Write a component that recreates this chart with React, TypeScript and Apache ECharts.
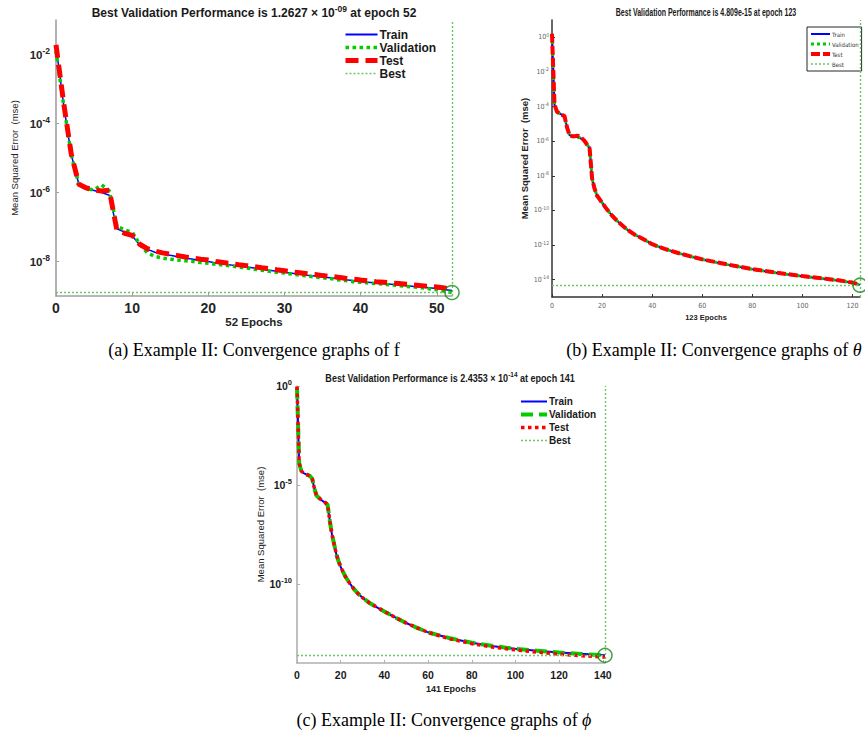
import React, { useEffect, useRef } from 'react';
import * as echarts from 'echarts';

const W = 865;
const H = 736;

const SANS = '"Liberation Sans", Arial, sans-serif';
const NARROW = '"Liberation Sans Narrow", "Arial Narrow", "DejaVu Sans Condensed", sans-serif';
const SERIF = '"Liberation Serif", "Times New Roman", serif';

const BLUE = '#0000ff';
const GREEN = '#00cc00';
const RED = '#ff0000';
const BESTC = '#66c866';
const CIRCLE = '#138a13';

// ---------- (a) f : 52 epochs ----------
const epochsA = [0, 1, 2, 3, 4, 5, 6, 7, 8, 9, 10, 11, 12, 13, 14, 15, 16, 17, 18, 19, 20, 21, 22, 23, 24, 25, 26, 27, 28, 29, 30, 31, 32, 33, 34, 35, 36, 37, 38, 39, 40, 41, 42, 43, 44, 45, 46, 47, 48, 49, 50, 51, 52];
const trainA = [1.78e-2, 3.55e-4, 1.26e-5, 1.74e-6, 1.32e-6, 1.15e-6, 1.0e-6, 8.3e-7, 8.9e-8, 7.1e-8, 5.6e-8, 3.0e-8, 2.24e-8, 1.86e-8, 1.66e-8, 1.51e-8, 1.38e-8, 1.26e-8, 1.17e-8, 1.07e-8, 1.0e-8, 9.1e-9, 8.5e-9, 7.9e-9, 7.4e-9, 6.9e-9, 6.5e-9, 6.0e-9, 5.6e-9, 5.2e-9, 4.9e-9, 4.6e-9, 4.3e-9, 4.0e-9, 3.8e-9, 3.55e-9, 3.4e-9, 3.2e-9, 2.95e-9, 2.8e-9, 2.6e-9, 2.5e-9, 2.4e-9, 2.3e-9, 2.2e-9, 2.1e-9, 2.0e-9, 1.9e-9, 1.82e-9, 1.74e-9, 1.66e-9, 1.55e-9, 1.45e-9];
const valA = [1.26e-2, 3.5e-4, 1.26e-5, 1.74e-6, 1.26e-6, 1.2e-6, 1.66e-6, 1.12e-6, 1.05e-7, 8.3e-8, 7.1e-8, 3.16e-8, 1.78e-8, 1.41e-8, 1.26e-8, 1.17e-8, 1.1e-8, 1.05e-8, 1.0e-8, 9.3e-9, 8.9e-9, 8.3e-9, 7.9e-9, 7.4e-9, 6.9e-9, 6.5e-9, 6.0e-9, 5.6e-9, 5.2e-9, 4.9e-9, 4.6e-9, 4.3e-9, 4.0e-9, 3.8e-9, 3.55e-9, 3.4e-9, 3.2e-9, 2.95e-9, 2.8e-9, 2.6e-9, 2.5e-9, 2.4e-9, 2.3e-9, 2.2e-9, 2.1e-9, 2.0e-9, 1.9e-9, 1.82e-9, 1.74e-9, 1.62e-9, 1.51e-9, 1.38e-9, 1.26e-9];
const testA = [1.9e-2, 4.0e-4, 1.32e-5, 1.74e-6, 1.35e-6, 1.2e-6, 1.1e-6, 1.17e-6, 7.9e-8, 6.6e-8, 5.75e-8, 3.16e-8, 2.34e-8, 2.0e-8, 1.78e-8, 1.62e-8, 1.48e-8, 1.35e-8, 1.26e-8, 1.17e-8, 1.1e-8, 1.0e-8, 9.3e-9, 8.7e-9, 8.1e-9, 7.6e-9, 7.1e-9, 6.6e-9, 6.2e-9, 5.75e-9, 5.4e-9, 5.0e-9, 4.7e-9, 4.4e-9, 4.2e-9, 3.9e-9, 3.7e-9, 3.5e-9, 3.25e-9, 3.1e-9, 2.9e-9, 2.75e-9, 2.6e-9, 2.5e-9, 2.4e-9, 2.3e-9, 2.2e-9, 2.1e-9, 2.0e-9, 1.9e-9, 1.82e-9, 1.7e-9, 1.58e-9];
const bestA = 1.2627e-9;
const bestEpochA = 52;
const xTicksA = [0, 10, 20, 30, 40, 50];
const yTicksA = [-8, -6, -4, -2];

// ---------- (b) theta : 123 epochs ----------
const epochsB = [0, 1, 2, 3, 4, 5, 6, 7, 8, 9, 10, 11, 12, 13, 14, 15, 16, 17, 18, 19, 20, 22, 24, 26, 28, 30, 33, 36, 40, 45, 50, 55, 60, 70, 80, 90, 100, 110, 115, 120, 123];
const trainB = [1.41, 1.26e-4, 5.0e-5, 3.98e-5, 3.3e-5, 2.8e-5, 6.3e-6, 2.24e-6, 1.9e-6, 1.78e-6, 1.74e-6, 1.58e-6, 1.35e-6, 1.0e-6, 6.3e-7, 4.0e-7, 7.1e-9, 1.78e-9, 7.1e-10, 4.5e-10, 2.8e-10, 1.12e-10, 5.0e-11, 2.5e-11, 1.41e-11, 7.9e-12, 4.0e-12, 2.4e-12, 1.12e-12, 6.0e-13, 3.55e-13, 2.24e-13, 1.48e-13, 7.4e-14, 4.0e-14, 2.4e-14, 1.58e-14, 1.07e-14, 8.7e-15, 6.6e-15, 5.0e-15];
const valB = [1.35, 1.26e-4, 5.0e-5, 3.98e-5, 3.3e-5, 2.8e-5, 6.3e-6, 2.24e-6, 1.9e-6, 1.78e-6, 1.74e-6, 1.58e-6, 1.35e-6, 1.0e-6, 6.3e-7, 4.0e-7, 7.1e-9, 1.78e-9, 7.1e-10, 4.5e-10, 2.8e-10, 1.12e-10, 5.0e-11, 2.5e-11, 1.41e-11, 7.9e-12, 4.0e-12, 2.4e-12, 1.12e-12, 6.0e-13, 3.55e-13, 2.24e-13, 1.48e-13, 7.4e-14, 4.0e-14, 2.4e-14, 1.58e-14, 1.07e-14, 8.7e-15, 6.5e-15, 4.809e-15];
const testB = [1.6, 1.3e-4, 5.0e-5, 3.98e-5, 3.3e-5, 2.8e-5, 6.3e-6, 2.24e-6, 1.95e-6, 1.9e-6, 2.1e-6, 1.9e-6, 1.45e-6, 1.05e-6, 6.3e-7, 4.0e-7, 7.1e-9, 1.78e-9, 7.1e-10, 4.5e-10, 2.8e-10, 1.12e-10, 5.0e-11, 2.5e-11, 1.41e-11, 7.9e-12, 4.0e-12, 2.4e-12, 1.12e-12, 6.0e-13, 3.6e-13, 2.3e-13, 1.5e-13, 7.6e-14, 4.1e-14, 2.5e-14, 1.62e-14, 1.1e-14, 9.0e-15, 6.8e-15, 5.2e-15];
const bestB = 4.809e-15;
const bestEpochB = 123;
const xTicksB = [0, 20, 40, 60, 80, 100, 120];
const yTicksB = [-14, -12, -10, -8, -6, -4, -2, 0];

// ---------- (c) phi : 141 epochs ----------
const epochsC = [0, 1, 2, 3, 4, 5, 6, 7, 8, 9, 10, 11, 12, 13, 14, 15, 16, 17, 18, 19, 20, 22, 24, 26, 28, 30, 33, 36, 40, 45, 50, 55, 60, 70, 80, 90, 100, 110, 120, 130, 141];
const trainC = [0.89, 1.26e-4, 5.0e-5, 3.98e-5, 3.55e-5, 3.16e-5, 2.8e-5, 2.0e-5, 6.3e-6, 2.8e-6, 2.24e-6, 1.78e-6, 1.48e-6, 1.26e-6, 1.0e-6, 1.58e-7, 3.16e-8, 1.0e-8, 3.16e-9, 1.41e-9, 7.1e-10, 2.5e-10, 1.12e-10, 5.6e-11, 3.16e-11, 2.0e-11, 1.12e-11, 7.1e-12, 4.0e-12, 2.0e-12, 1.05e-12, 6.0e-13, 3.55e-13, 1.78e-13, 1.05e-13, 7.1e-14, 5.2e-14, 4.2e-14, 3.4e-14, 2.9e-14, 2.5e-14];
const valC = [0.85, 1.26e-4, 5.0e-5, 3.98e-5, 3.55e-5, 3.16e-5, 2.8e-5, 2.0e-5, 6.3e-6, 2.8e-6, 2.24e-6, 1.78e-6, 1.48e-6, 1.26e-6, 1.0e-6, 1.58e-7, 3.16e-8, 1.0e-8, 3.16e-9, 1.41e-9, 7.1e-10, 2.5e-10, 1.12e-10, 5.6e-11, 3.16e-11, 2.0e-11, 1.12e-11, 7.1e-12, 4.0e-12, 2.0e-12, 1.05e-12, 6.0e-13, 3.55e-13, 1.78e-13, 1.05e-13, 7.1e-14, 5.2e-14, 4.2e-14, 3.4e-14, 2.85e-14, 2.4353e-14];
const testC = [0.95, 1.26e-4, 5.0e-5, 3.98e-5, 3.55e-5, 3.16e-5, 2.8e-5, 2.0e-5, 6.3e-6, 2.8e-6, 2.24e-6, 1.78e-6, 1.48e-6, 1.26e-6, 1.0e-6, 1.58e-7, 3.16e-8, 1.0e-8, 3.16e-9, 1.41e-9, 7.1e-10, 2.5e-10, 1.12e-10, 5.6e-11, 3.16e-11, 2.0e-11, 1.12e-11, 7.1e-12, 4.0e-12, 2.0e-12, 1.05e-12, 6.0e-13, 3.55e-13, 1.66e-13, 9.5e-14, 6.3e-14, 4.6e-14, 3.55e-14, 2.8e-14, 2.34e-14, 2.0e-14];
const bestC = 2.4353e-14;
const bestEpochC = 141;
const xTicksC = [0, 20, 40, 60, 80, 100, 120, 140];
const yTicksC = [-10, -5, 0];

function toLog(ep: number[], v: number[]) {
  return ep.map((e, i) => [e, Math.log10(v[i])]);
}

type PanelCfg = any;

function buildPanel(c: PanelCfg) {
  const nm = (n: string) => n + c.suffix;
  const grid = { ...c.grid, containLabel: false };
  const xAxis = {
    gridIndex: c.idx,
    type: 'value',
    min: 0,
    max: c.xMax,
    splitLine: { show: false },
    axisLine: { show: true, onZero: false, lineStyle: { color: c.axisColor, width: c.axisWidth } },
    axisTick: { show: true, inside: true, length: 3, customValues: c.xTicks, lineStyle: { color: c.axisColor } },
    axisLabel: { customValues: c.xTicks, margin: c.xLabelMargin, color: c.labelColor, ...c.xLabelFont },
    name: c.xName,
    nameLocation: 'middle',
    nameGap: c.xNameGap,
    nameTextStyle: { color: c.labelColor, ...c.xNameFont },
  };
  const yAxis = {
    gridIndex: c.idx,
    type: 'value',
    min: c.yMin,
    max: c.yMax,
    splitLine: { show: false },
    axisLine: { show: true, onZero: false, lineStyle: { color: c.axisColor, width: c.axisWidth } },
    axisTick: { show: true, inside: true, length: 3, customValues: c.yTicks, lineStyle: { color: c.axisColor } },
    axisLabel: {
      customValues: c.yTicks,
      margin: c.yLabelMargin,
      formatter: (v: number) => `{b|10}{s|${v}}`,
      rich: {
        b: { color: c.labelColor, ...c.yBase },
        s: { color: c.labelColor, ...c.ySup },
      },
    },
    name: c.yName,
    nameLocation: 'middle',
    nameRotate: 90,
    nameGap: c.yNameGap,
    nameTextStyle: { color: c.labelColor, ...c.yNameFont },
  };
  const common = {
    type: 'line',
    xAxisIndex: c.idx,
    yAxisIndex: c.idx,
    symbol: 'none',
    silent: true,
  };
  const bl = Math.log10(c.best);
  const mk = (name: string, data: any, ls: any, z: number) => ({
    ...common,
    name,
    data,
    color: ls.color,
    itemStyle: { color: ls.color, opacity: 0 },
    lineStyle: ls,
    z,
  });
  const bestStyle = { color: BESTC, width: 1.4, type: [2, 2] };
  const series = [
    mk(nm('Train'), toLog(c.epochs, c.train), c.trainStyle, 2),
    mk(nm('Validation'), toLog(c.epochs, c.val), c.valStyle, 3),
    mk(nm('Test'), toLog(c.epochs, c.test), c.testStyle, 4),
    {
      ...mk(nm('Best'), [], bestStyle, 1),
      markLine: {
        silent: true,
        symbol: ['none', 'none'],
        label: { show: false },
        lineStyle: { ...bestStyle },
        data: [{ xAxis: c.xMax }, { yAxis: bl }],
      },
    },
    {
      type: 'scatter',
      name: 'bestpoint' + c.idx,
      xAxisIndex: c.idx,
      yAxisIndex: c.idx,
      symbol: 'circle',
      symbolSize: 14,
      silent: true,
      z: 6,
      itemStyle: { color: 'rgba(0,0,0,0)', borderColor: CIRCLE, borderWidth: 1.5 },
      data: [[c.bestEpoch, bl]],
    },
  ];
  const { widths, ...legendRest } = c.legend;
  const styles = [c.trainStyle, c.valStyle, c.testStyle, bestStyle];
  const legend = {
    ...legendRest,
    selectedMode: false,
    orient: 'vertical',
    formatter: (n: string) => n.trim(),
    itemStyle: { opacity: 0 },
    data: ['Train', 'Validation', 'Test', 'Best'].map((n, i) => ({
      name: nm(n),
      lineStyle: { width: i < 3 ? widths[i] : 1.4, color: styles[i].color, type: styles[i].type || 'solid' },
    })),
  };
  return { grid, xAxis, yAxis, series, legend };
}

const panels: PanelCfg[] = [
  {
    idx: 0,
    suffix: '',
    grid: { left: 56, top: 20, width: 396, height: 276 },
    xMax: 52,
    yMin: -9,
    yMax: -1,
    xTicks: xTicksA,
    yTicks: yTicksA,
    epochs: epochsA,
    train: trainA,
    val: valA,
    test: testA,
    best: bestA,
    bestEpoch: bestEpochA,
    axisColor: '#a0a0a0',
    axisWidth: 1.6,
    labelColor: '#262626',
    xLabelFont: { fontFamily: SANS, fontSize: 14, fontWeight: 'bold' },
    yBase: { fontFamily: SANS, fontSize: 11.5, fontWeight: 'bold' },
    ySup: { fontFamily: SANS, fontSize: 8.5, fontWeight: 'bold', padding: [0, 0, 8, 0] },
    yLabelMargin: 6,
    xLabelMargin: 5,
    xName: '52 Epochs',
    xNameGap: 20,
    xNameFont: { fontFamily: SANS, fontSize: 11.5, fontWeight: 'bold' },
    yName: 'Mean Squared Error  (mse)',
    yNameGap: 37,
    yNameFont: { fontFamily: SANS, fontSize: 9.5 },
    trainStyle: { color: BLUE, width: 1.5 },
    valStyle: { color: GREEN, width: 3.5, type: [3.5, 3.5] },
    testStyle: { color: RED, width: 5, type: [13, 7] },
    legend: {
      left: 343,
      top: 28,
      padding: 0,
      itemWidth: 32,
      itemHeight: 10,
      itemGap: 0,
      widths: [2, 3.5, 5],
      textStyle: { fontFamily: SANS, fontSize: 12, fontWeight: 'bold', color: '#1a1a1a', lineHeight: 13, padding: [0, 0, 0, -3] },
    },
  },
  {
    idx: 1,
    suffix: ' ',
    grid: { left: 552, top: 20, width: 308, height: 277 },
    xMax: 123,
    yMin: -15,
    yMax: 1,
    xTicks: xTicksB,
    yTicks: yTicksB,
    epochs: epochsB,
    train: trainB,
    val: valB,
    test: testB,
    best: bestB,
    bestEpoch: bestEpochB,
    axisColor: '#333333',
    axisWidth: 1.5,
    labelColor: '#666666',
    xLabelFont: { fontFamily: NARROW, fontSize: 7 },
    yBase: { fontFamily: NARROW, fontSize: 7 },
    ySup: { fontFamily: NARROW, fontSize: 5, padding: [0, 0, 5, 0] },
    yLabelMargin: 3,
    xLabelMargin: 5,
    xName: '123 Epochs',
    xNameGap: 16,
    xNameFont: { fontFamily: SANS, fontSize: 7.5, fontWeight: 'bold', color: '#222' },
    yName: 'Mean Squared Error  (mse)',
    yNameGap: 17,
    yNameFont: { fontFamily: SANS, fontSize: 9.5, fontWeight: 'bold', color: '#222' },
    trainStyle: { color: BLUE, width: 2 },
    valStyle: { color: GREEN, width: 3, type: [3, 3] },
    testStyle: { color: RED, width: 4, type: [9, 3] },
    legend: {
      left: 807,
      top: 27,
      padding: [2, 3, 2, 2],
      borderColor: '#262626',
      borderWidth: 1,
      backgroundColor: '#ffffff',
      itemWidth: 19,
      itemHeight: 6,
      itemGap: 0,
      widths: [2, 3, 4],
      textStyle: { fontFamily: NARROW, fontSize: 6, color: '#333', lineHeight: 10, padding: [0, 0, 0, -3] },
    },
  },
  {
    idx: 2,
    suffix: '  ',
    grid: { left: 297, top: 386, width: 308, height: 277 },
    xMax: 141,
    yMin: -14,
    yMax: 0,
    xTicks: xTicksC,
    yTicks: yTicksC,
    epochs: epochsC,
    train: trainC,
    val: valC,
    test: testC,
    best: bestC,
    bestEpoch: bestEpochC,
    axisColor: '#b0b0b0',
    axisWidth: 1.6,
    labelColor: '#1a1a1a',
    xLabelFont: { fontFamily: SANS, fontSize: 10.5, fontWeight: 'bold' },
    yBase: { fontFamily: SANS, fontSize: 10.5, fontWeight: 'bold' },
    ySup: { fontFamily: SANS, fontSize: 7.5, fontWeight: 'bold', padding: [0, 0, 7, 0] },
    yLabelMargin: 5,
    xLabelMargin: 6,
    xName: '141 Epochs',
    xNameGap: 21,
    xNameFont: { fontFamily: SANS, fontSize: 9, fontWeight: 'bold' },
    yName: 'Mean Squared Error  (mse)',
    yNameGap: 32,
    yNameFont: { fontFamily: SANS, fontSize: 9.5 },
    trainStyle: { color: BLUE, width: 2 },
    valStyle: { color: GREEN, width: 4, type: [12, 6] },
    testStyle: { color: RED, width: 3.5, type: [3.5, 3.5] },
    legend: {
      left: 519,
      top: 395,
      padding: 0,
      itemWidth: 26,
      itemHeight: 10,
      itemGap: 0,
      widths: [2, 4, 3.5],
      textStyle: { fontFamily: SANS, fontSize: 10, fontWeight: 'bold', color: '#1a1a1a', lineHeight: 13, padding: [0, 0, 0, -3] },
    },
  },
];

function titleText(x: number, y: number, text: string, font: string, size: number, supSize: number, scaleX = 1) {
  return {
    type: 'text',
    x,
    y,
    scaleX,
    silent: true,
    style: {
      text,
      align: 'center',
      verticalAlign: 'middle',
      rich: {
        t: { fontFamily: font, fontSize: size, fontWeight: 'bold', fill: '#1a1a1a' },
        s: { fontFamily: font, fontSize: supSize, fontWeight: 'bold', fill: '#1a1a1a', padding: [0, 0, supSize * 0.9, 0] },
      },
    },
  };
}

function caption(x: number, y: number, text: string) {
  return {
    type: 'text',
    x,
    y,
    silent: true,
    style: {
      text,
      align: 'center',
      verticalAlign: 'middle',
      rich: {
        r: { fontFamily: SERIF, fontSize: 18, fill: '#000' },
        i: { fontFamily: SERIF, fontSize: 18, fontStyle: 'italic', fill: '#000' },
      },
    },
  };
}

export default function App() {
  const ref = useRef<HTMLDivElement>(null);
  useEffect(() => {
    if (!ref.current) return;
    const chart = echarts.init(ref.current, null, { renderer: 'svg', width: W, height: H });
    const built = panels.map(buildPanel);
    const option: any = {
      animation: false,
      backgroundColor: '#ffffff',
      grid: built.map((b) => b.grid),
      xAxis: built.map((b) => b.xAxis),
      yAxis: built.map((b) => b.yAxis),
      series: built.flatMap((b) => b.series),
      legend: built.map((b) => b.legend),
      graphic: [
        titleText(254, 13, '{t|Best Validation Performance is 1.2627 × 10}{s|-09}{t| at epoch 52}', SANS, 12, 8.5),
        titleText(706, 13, '{t|Best Validation Performance is 4.809e-15 at epoch 123}', SANS, 10, 7, 0.7),
        titleText(450, 378, '{t|Best Validation Performance is 2.4353 × 10}{s|-14}{t| at epoch 141}', SANS, 10.5, 7.5, 0.86),
        caption(254, 350, '{r|(a) Example II: Convergence graphs of f}'),
        caption(714, 350, '{r|(b) Example II: Convergence graphs of }{i|θ}'),
        caption(444, 720, '{r|(c) Example II: Convergence graphs of }{i|ϕ}'),
      ],
    };
    chart.setOption(option);
    return () => chart.dispose();
  }, []);
  return (
    <div
      ref={ref}
      style={{ position: 'absolute', left: 0, top: 0, width: W, height: H, background: '#fff' }}
    />
  );
}
